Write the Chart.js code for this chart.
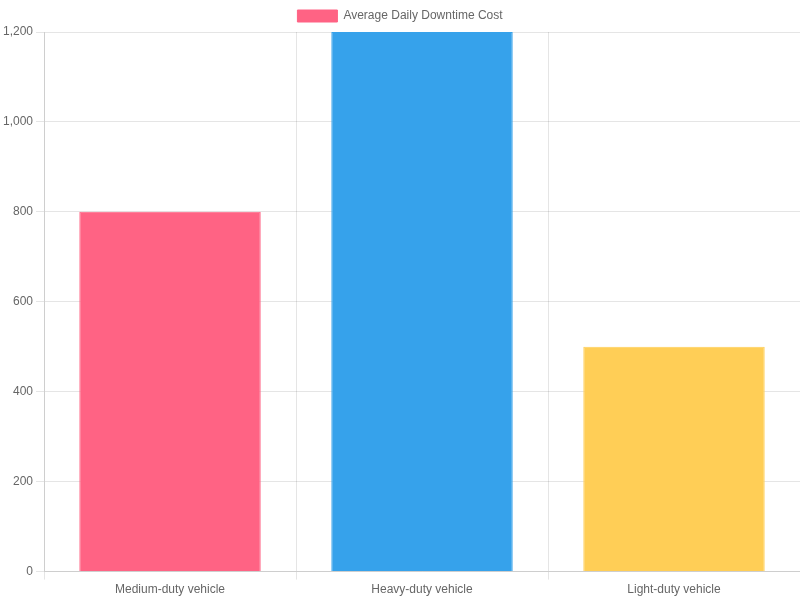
<!DOCTYPE html>
<html><head><meta charset="utf-8">
<script src="https://cdn.jsdelivr.net/npm/chart.js"></script>
<style>html,body{margin:0;padding:0;background:#fff}#w{width:800px;height:600px}</style>
</head><body><div id="w"><canvas id="c"></canvas></div>
<script>
const categories = ["Medium-duty vehicle", "Heavy-duty vehicle", "Light-duty vehicle"];
const seriesLabel = "Average Daily Downtime Cost";
const values = [800, 1200, 500];
const colors = ["rgba(255,99,132,1)", "rgba(54,162,235,1)", "rgba(255,206,86,1)"];
new Chart(document.getElementById('c'), {
  type: 'bar',
  data: { labels: categories, datasets: [{ label: seriesLabel, data: values, backgroundColor: colors, borderColor: colors, borderWidth: 1 }] },
  options: { responsive: true, maintainAspectRatio: false, animation: false,
    scales: { y: { beginAtZero: true, max: 1200 } } }
});
</script></body></html>
